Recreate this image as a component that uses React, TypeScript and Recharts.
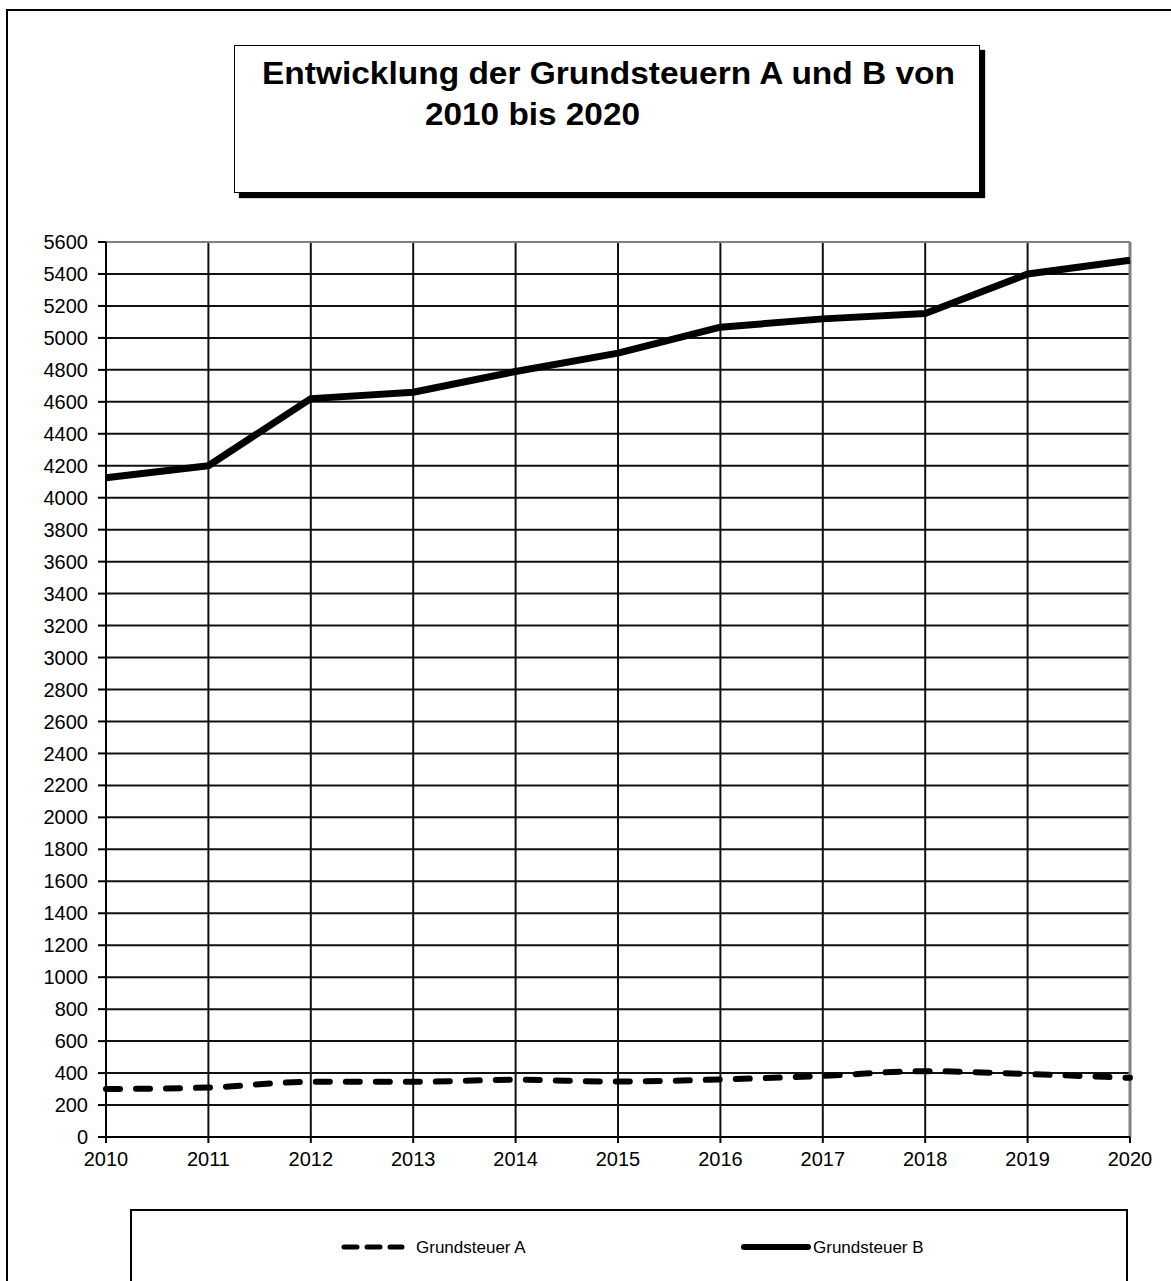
import React from 'react';
import { LineChart, Line, XAxis, YAxis, CartesianGrid, ReferenceLine, Legend } from 'recharts';

const years = [2010, 2011, 2012, 2013, 2014, 2015, 2016, 2017, 2018, 2019, 2020];
const grundsteuerA = [300, 310, 345, 345, 358, 347, 360, 382, 412, 394, 370];
const grundsteuerB = [4125, 4200, 4620, 4660, 4790, 4905, 5067, 5119, 5153, 5400, 5486];
const yTicks = [0, 200, 400, 600, 800, 1000, 1200, 1400, 1600, 1800, 2000, 2200, 2400, 2600, 2800, 3000, 3200, 3400, 3600, 3800, 4000, 4200, 4400, 4600, 4800, 5000, 5200, 5400, 5600];
const titleLine1 = 'Entwicklung der Grundsteuern A und B von';
const titleLine2 = '2010 bis 2020';

const data = years.map((y, i) => ({ year: y, A: grundsteuerA[i], B: grundsteuerB[i] }));

const FONT = '"Liberation Sans", Arial, sans-serif';

const LegendContent = (props: any) => {
  const payload = props.payload || [];
  const a = payload.find((p: any) => p.dataKey === 'A');
  const b = payload.find((p: any) => p.dataKey === 'B');
  return (
    <div style={{ position: 'relative', width: 998, height: 120, boxSizing: 'border-box', border: '2px solid #000', background: '#fff' }}>
      <svg width={998} height={120} style={{ position: 'absolute', left: -2, top: -2 }}>
        <line x1={214} y1={38} x2={272} y2={38} stroke="#000" strokeWidth={5} strokeLinecap="round" strokeDasharray="13 10" />
        <text x={286} y={38} dy="0.35em" fontFamily={FONT} fontSize={17} fill="#000">{a ? a.value : 'Grundsteuer A'}</text>
        <line x1={614} y1={38} x2={678} y2={38} stroke="#000" strokeWidth={6} strokeLinecap="round" />
        <text x={683} y={38} dy="0.35em" fontFamily={FONT} fontSize={17} fill="#000">{b ? b.value : 'Grundsteuer B'}</text>
      </svg>
    </div>
  );
};

export default function App() {
  return (
    <div style={{ position: 'absolute', left: 0, top: 0, width: 1171, height: 1281, overflow: 'hidden', background: '#fff' }}>
      <div style={{ position: 'absolute', left: 6, top: 9, width: 1300, height: 1400, border: '2px solid #000', boxSizing: 'border-box' }} />
      <div style={{ position: 'absolute', left: 234, top: 45, width: 746, height: 148, border: '1.5px solid #000', boxSizing: 'border-box', background: '#fff', boxShadow: '5px 5px 1px #000' }} />
      <svg width={1171} height={200} style={{ position: 'absolute', left: 0, top: 0 }}>
        <text x={262} y={84} fontFamily={FONT} fontWeight="bold" fontSize={31} textLength={693} lengthAdjust="spacingAndGlyphs" fill="#000">{titleLine1}</text>
        <text x={425} y={125} fontFamily={FONT} fontWeight="bold" fontSize={31} textLength={215} lengthAdjust="spacingAndGlyphs" fill="#000">{titleLine2}</text>
      </svg>
      <div style={{ position: 'absolute', left: 0, top: 0 }}>
        <LineChart width={1171} height={1281} data={data} margin={{ top: 242, right: 41, bottom: 114, left: 46 }}>
          <CartesianGrid stroke="#111" strokeWidth={2} />
          <XAxis
            dataKey="year"
            type="number"
            domain={[2010, 2020]}
            ticks={years}
            height={30}
            tickSize={6}
            tickMargin={9}
            axisLine={{ stroke: '#000', strokeWidth: 2 }}
            tickLine={{ stroke: '#000', strokeWidth: 2 }}
            tick={{ fill: '#000', fontSize: 20, fontFamily: FONT }}
            interval={0}
          />
          <YAxis
            type="number"
            domain={[0, 5600]}
            ticks={yTicks}
            width={60}
            tickSize={8}
            tickMargin={10}
            axisLine={{ stroke: '#000', strokeWidth: 2 }}
            tickLine={{ stroke: '#000', strokeWidth: 2 }}
            tick={{ fill: '#000', fontSize: 20, fontFamily: FONT }}
            interval={0}
          />
          <ReferenceLine x={2020} stroke="#808080" strokeWidth={3} />
          <ReferenceLine y={5600} stroke="#808080" strokeWidth={2} />
          <Legend
            layout="horizontal"
            verticalAlign="middle"
            align="center"
            content={<LegendContent />}
            wrapperStyle={{ position: 'absolute', left: 130, top: 1209, width: 998, height: 120 }}
          />
          <Line
            dataKey="A"
            name="Grundsteuer A"
            type="monotone"
            stroke="#000"
            strokeWidth={6}
            strokeLinecap="round"
            strokeDasharray="14 16"
            dot={false}
            activeDot={false}
            isAnimationActive={false}
          />
          <Line
            dataKey="B"
            name="Grundsteuer B"
            type="linear"
            stroke="#000"
            strokeWidth={7}
            strokeLinejoin="round"
            dot={false}
            activeDot={false}
            isAnimationActive={false}
          />
        </LineChart>
      </div>
    </div>
  );
}
